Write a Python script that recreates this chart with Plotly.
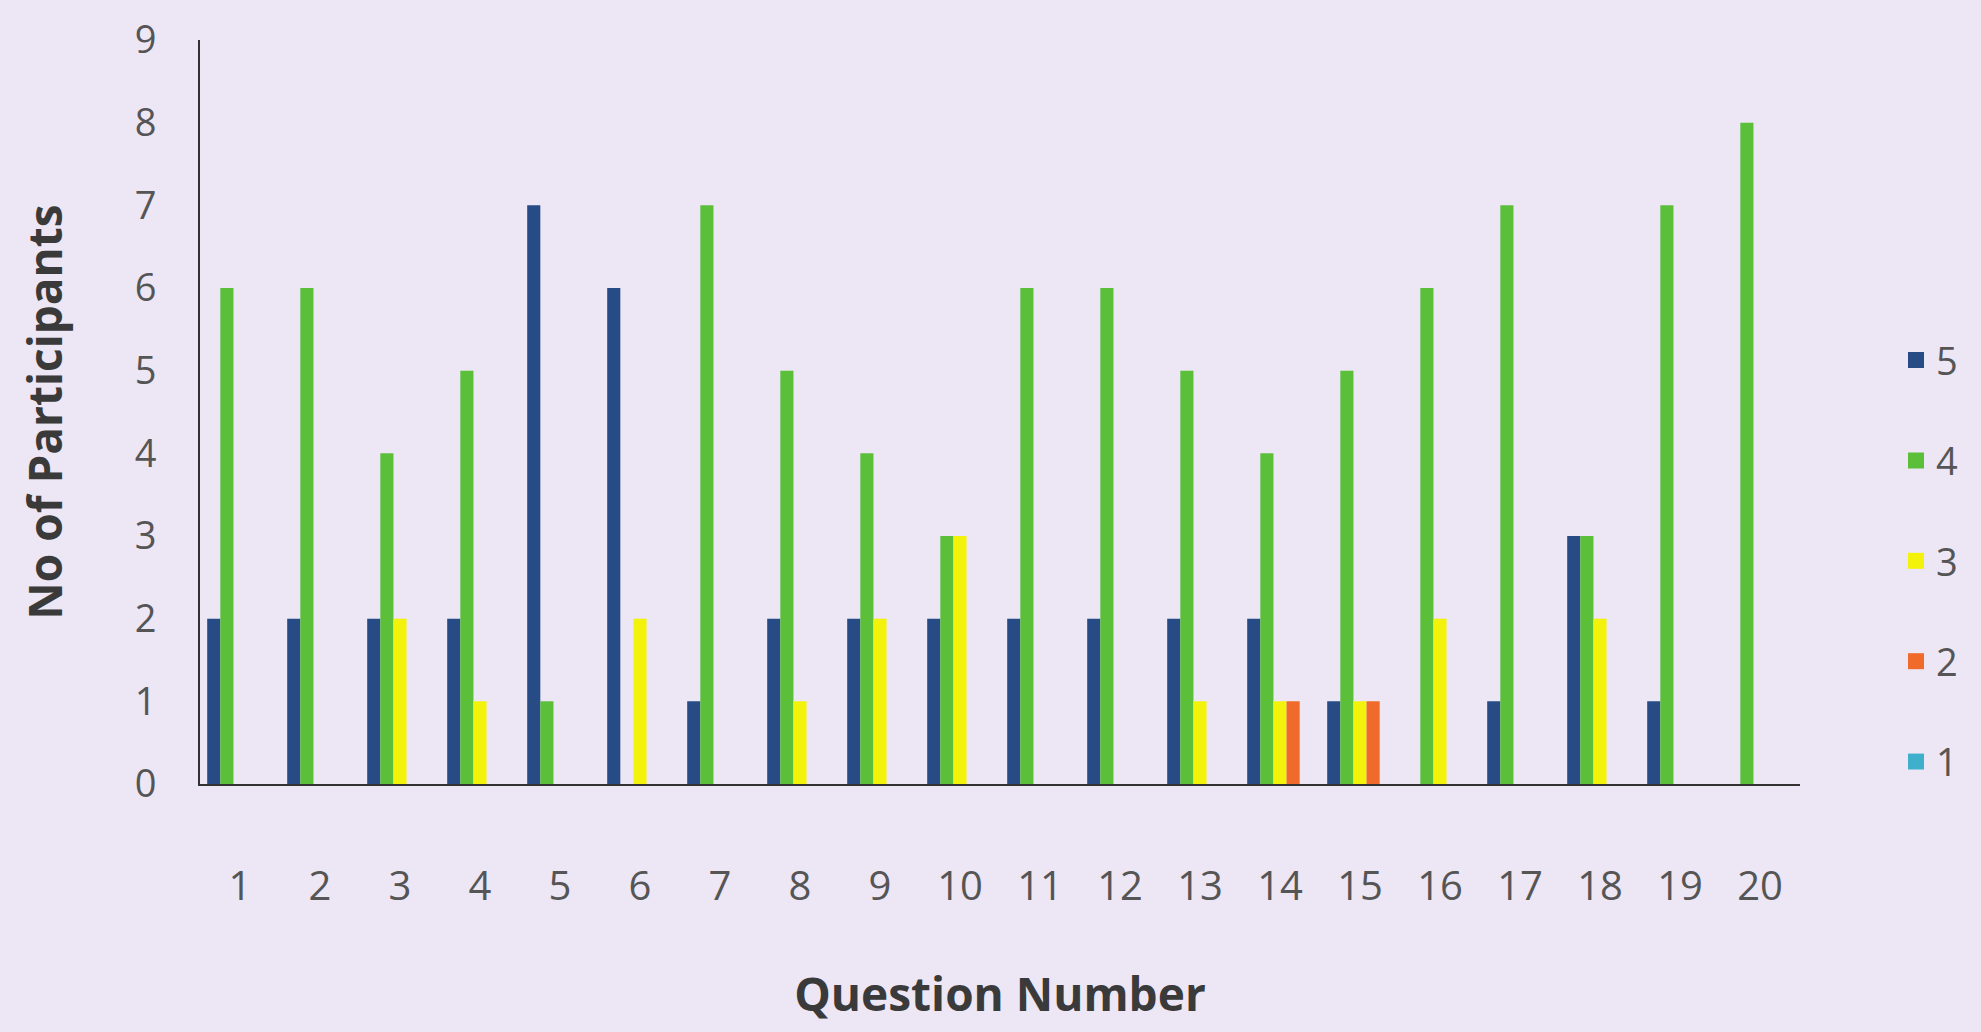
import plotly.graph_objects as go

# Data
questions = [str(q) for q in range(1, 21)]
rating_5 = [2, 2, 2, 2, 7, 6, 1, 2, 2, 2, 2, 2, 2, 2, 1, 0, 1, 3, 1, 0]
rating_4 = [6, 6, 4, 5, 1, 0, 7, 5, 4, 3, 6, 6, 5, 4, 5, 6, 7, 3, 7, 8]
rating_3 = [0, 0, 2, 1, 0, 2, 0, 1, 2, 3, 0, 0, 1, 1, 1, 2, 0, 2, 0, 0]
rating_2 = [0, 0, 0, 0, 0, 0, 0, 0, 0, 0, 0, 0, 0, 1, 1, 0, 0, 0, 0, 0]
rating_1 = [0] * 20

series = [
    ("5", rating_5, "#264B85"),
    ("4", rating_4, "#5CBF3A"),
    ("3", rating_3, "#F2F20A"),
    ("2", rating_2, "#F06A2C"),
    ("1", rating_1, "#3FB0CC"),
]

_BG = "#EDE6F5"
_TEXT = "#555555"
_TITLE = "#3A3A3A"

fig = go.Figure()
for name, vals, colour in series:
    fig.add_trace(go.Bar(
        x=questions,
        y=vals,
        name=name,
        marker=dict(color=colour, line=dict(width=0)),
        showlegend=False,
    ))
    # legend-only entry so the swatch can be sized like the original
    fig.add_trace(go.Scatter(
        x=[None], y=[None],
        mode="markers",
        name=name,
        legendgroup=name,
        marker=dict(color=colour, symbol="square", size=24),
    ))

fig.update_layout(
    barmode="group",
    bargap=0.18,
    bargroupgap=0,
    plot_bgcolor=_BG,
    paper_bgcolor=_BG,
    font=dict(family="Open Sans, sans-serif", size=38, color=_TEXT),
    margin=dict(l=200, r=181, t=38, b=248),
    width=1981,
    height=1032,
    showlegend=True,
    legend=dict(
        x=1.06, y=0.3, xanchor="left", yanchor="middle",
        bgcolor="rgba(0,0,0,0)", font=dict(size=38, color=_TEXT),
        itemwidth=30, tracegroupgap=48,
    ),
)
fig.update_xaxes(
    showgrid=False,
    showline=True, linecolor="#333333", linewidth=2,
    ticks="", ticklabelstandoff=66,
    tickfont=dict(size=40),
    title=dict(text="<b>Question Number</b>", standoff=68,
               font=dict(size=46, color=_TITLE)),
)
fig.update_yaxes(
    range=[0, 9], dtick=1,
    showgrid=False, zeroline=False,
    showline=True, linecolor="#333333", linewidth=2,
    ticks="", ticklabelstandoff=34,
    tickfont=dict(size=38),
    title=dict(text="<b>No of Participants</b>", standoff=58,
               font=dict(size=46, color=_TITLE)),
)

fig.write_html(
    "out.html",
    config={"displayModeBar": False},
    post_script="document.body.style.margin='0';document.body.style.background='" + _BG + "';",
)
